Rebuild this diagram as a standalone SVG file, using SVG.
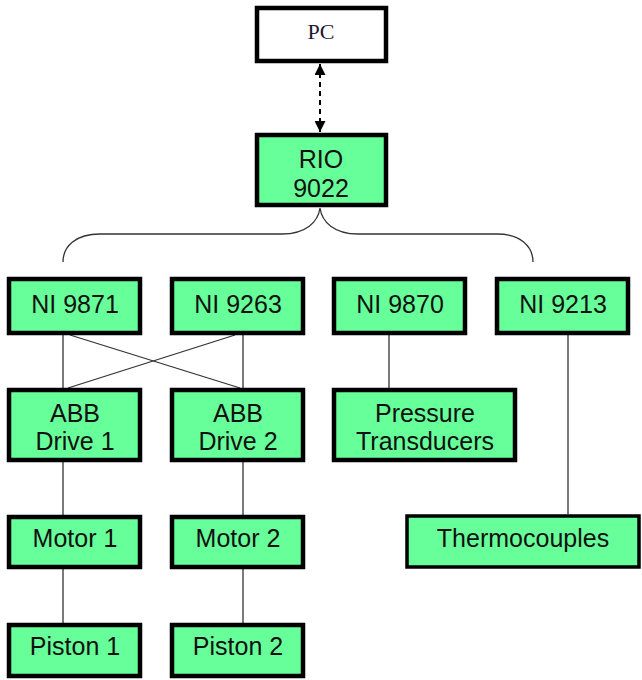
<svg xmlns="http://www.w3.org/2000/svg" width="642" height="680" viewBox="0 0 642 680">
<defs>
<style>
.box{fill:#66FF99;stroke:#000;stroke-width:4.5}
.pc{fill:#fff;stroke:#000;stroke-width:4.5}
.t{font-family:"Liberation Sans",Arial,sans-serif;font-size:25px;fill:#111;text-anchor:middle}
.ts{font-family:"Liberation Serif","Times New Roman",serif;font-size:22px;fill:#1a1a33;text-anchor:middle}
.ln{fill:none;stroke:#333;stroke-width:1.3}
.dash{fill:none;stroke:#000;stroke-width:2;stroke-dasharray:5,4}
</style>
<marker id="ah" viewBox="0 0 10 10" refX="10" refY="5" markerWidth="5.5" markerHeight="5.5" orient="auto-start-reverse" markerUnits="strokeWidth">
<path d="M0,0 L10,5 L0,10 z" fill="#000"/>
</marker>
</defs>
<rect width="642" height="680" fill="#fff"/>
<g id="connectors">
<line class="dash" x1="320" y1="64" x2="320" y2="132" marker-start="url(#ah)" marker-end="url(#ah)"/>
<path class="ln" d="M63,262 C63,246 76,234 100,234 L282,234 C306,234 318,222 320,208 C322,222 334,234 358,234 L497,234 C520,234 533,246 533,262"/>
<line class="ln" x1="63" y1="335" x2="63" y2="388"/>
<line class="ln" x1="243" y1="335" x2="243" y2="388"/>
<line class="ln" x1="70" y1="335" x2="240" y2="388"/>
<line class="ln" x1="235" y1="335" x2="68" y2="388"/>
<line class="ln" x1="389" y1="335" x2="389" y2="388"/>
<line class="ln" x1="568" y1="335" x2="568" y2="514"/>
<line class="ln" x1="63" y1="462" x2="63" y2="515"/>
<line class="ln" x1="243" y1="462" x2="243" y2="515"/>
<line class="ln" x1="63" y1="569" x2="63" y2="623"/>
<line class="ln" x1="243" y1="569" x2="243" y2="623"/>
</g>
<g id="pc"><rect class="pc" x="257" y="8" width="129" height="53"/><text class="ts" x="321" y="39">PC</text></g>
<g id="rio"><rect class="box" x="257" y="135" width="129" height="70"/><text class="t" x="321" y="168">RIO</text><text class="t" x="321" y="197">9022</text></g>
<g id="ni9871"><rect class="box" x="9" y="279" width="131" height="54"/><text class="t" x="75" y="313">NI 9871</text></g>
<g id="ni9263"><rect class="box" x="172" y="279" width="131" height="54"/><text class="t" x="238" y="313">NI 9263</text></g>
<g id="ni9870"><rect class="box" x="334" y="279" width="131" height="54"/><text class="t" x="400" y="313">NI 9870</text></g>
<g id="ni9213"><rect class="box" x="497" y="279" width="131" height="54"/><text class="t" x="563" y="313">NI 9213</text></g>
<g id="abb1"><rect class="box" x="9" y="390" width="131" height="70"/><text class="t" x="75" y="422">ABB</text><text class="t" x="75" y="450">Drive 1</text></g>
<g id="abb2"><rect class="box" x="172" y="390" width="131" height="70"/><text class="t" x="238" y="422">ABB</text><text class="t" x="238" y="450">Drive 2</text></g>
<g id="pressure"><rect class="box" x="334" y="390" width="181" height="70"/><text class="t" x="425" y="422">Pressure</text><text class="t" x="425" y="450">Transducers</text></g>
<g id="motor1"><rect class="box" x="9" y="517" width="131" height="50"/><text class="t" x="75" y="547">Motor 1</text></g>
<g id="motor2"><rect class="box" x="172" y="517" width="131" height="50"/><text class="t" x="238" y="547">Motor 2</text></g>
<g id="thermo"><rect class="box" x="407" y="516" width="232" height="51" style="stroke-width:3.5"/><text class="t" x="523" y="547">Thermocouples</text></g>
<g id="piston1"><rect class="box" x="9" y="625" width="131" height="51"/><text class="t" x="75" y="655">Piston 1</text></g>
<g id="piston2"><rect class="box" x="172" y="625" width="131" height="51"/><text class="t" x="238" y="655">Piston 2</text></g>
</svg>
